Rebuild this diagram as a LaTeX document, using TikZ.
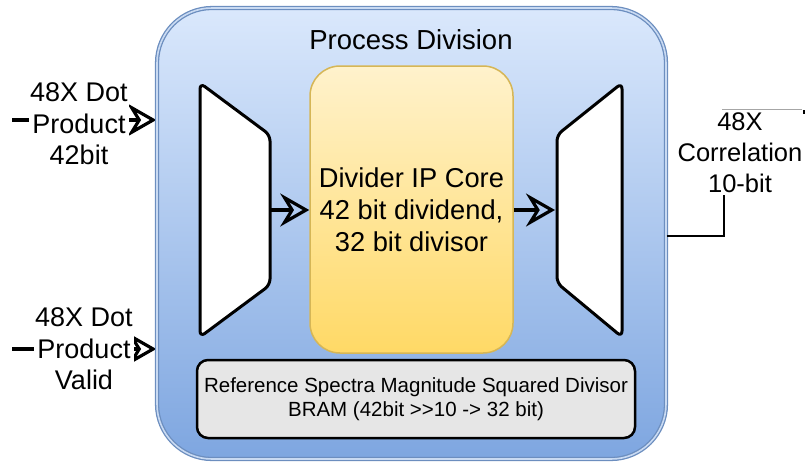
\documentclass[tikz,border=0pt]{standalone}
\usepackage{fontspec}
\setmainfont{Liberation Sans}
\usetikzlibrary{arrows.meta}
\definecolor{procTop}{HTML}{DAE8FC}
\definecolor{procBottom}{HTML}{7EA6E0}
\definecolor{procEdge}{HTML}{6C8EBF}
\definecolor{procGap}{HTML}{C9DAF2}
\definecolor{coreTop}{HTML}{FFF2CC}
\definecolor{coreBottom}{HTML}{FFD966}
\definecolor{coreEdge}{HTML}{D6B656}
\definecolor{bramFill}{HTML}{E6E6E6}
\pgfdeclarelayer{background}
\pgfsetlayers{background,main}
\begin{document}
\begin{tikzpicture}[x=1pt,y=-1pt,
  procbox/.style={draw=procEdge, double=procGap, double distance=1.6pt, line width=1.3pt,
    top color=procTop, bottom color=procBottom, rounded corners=55pt, inner sep=0pt},
  corebox/.style={draw=coreEdge, line width=1.5pt, top color=coreTop, bottom color=coreBottom,
    rounded corners=30pt, align=center, inner sep=0pt,
    font=\fontsize{27.3}{32}\selectfont},
  bramnode/.style={draw=black, line width=2.5pt, fill=bramFill, rounded corners=11pt,
    align=center, inner sep=0pt, font=\fontsize{20.5}{24}\selectfont},
  muxshape/.style={draw=black, fill=white, line width=3pt, rounded corners=6pt, line join=round},
  bigtext/.style={font=\fontsize{27.5}{32}\selectfont},
  sidelabel/.style={fill=white, align=center, inner sep=1pt, font=\fontsize{27}{31.5}\selectfont},
  outlabel/.style={fill=white, align=center, inner sep=2pt, font=\fontsize{25.5}{31}\selectfont},
  flow/.style={line width=3.2pt, -{Stealth[open, length=29pt, width=33pt, inset=10pt]}},
  wire/.style={line width=2.5pt}
]
\useasboundingbox (0,0) rectangle (806,464);

% outer process block
\node[procbox, minimum width=509pt, minimum height=451pt] (proc) at (411.5,233.5) {};
\node[bigtext] (title) at (411,40) {Process Division};

% divider core
\node[corebox, minimum width=203pt, minimum height=287pt] (core) at (411.5,209.5)
  {Divider IP Core\\42 bit dividend,\\32 bit divisor};

% divisor memory
\node[bramnode, minimum width=438pt, minimum height=78pt] (bram) at (416,399)
  {Reference Spectra Magnitude Squared Divisor\\BRAM (42bit >{}>10 -> 32 bit)};

% input and output multiplexers
\draw[muxshape] (200,83) -- (270,135) -- (270,285) -- (200,337) -- cycle;
\draw[muxshape] (622,83) -- (557,135) -- (557,283) -- (622,337) -- cycle;
\coordinate (lmuxout) at (270,210);
\coordinate (rmuxin) at (555,210);

\draw[flow] (lmuxout) -- (core.west |- lmuxout);
\draw[flow] (core.east |- rmuxin) -- (rmuxin);

% external inputs
\node[sidelabel] (inA) at (79,124) {48X Dot\\Product\\42bit};
\node[sidelabel] (inB) at (84,349) {48X Dot\\Product\\Valid};
\coordinate (srcA) at (12,120);
\coordinate (srcB) at (12,349);

% external output
\node[outlabel] (outC) at (740,153) {48X\\Correlation\\10-bit};
\coordinate (knee) at (724,236);
\coordinate (tailA) at (722,109);
\coordinate (tailB) at (802,109);

\begin{pgfonlayer}{background}
  \draw[flow] (srcA) -- (proc.west |- srcA);
  \draw[flow] (srcB) -- (proc.west |- srcB);
\end{pgfonlayer}
\draw[wire] (proc.east |- knee) -- (knee) -- (knee |- outC.south);
\draw[line width=0.8pt, black!35] (tailA) -- (tailB);
\fill[black] (803,110) rectangle (805,114);
\end{tikzpicture}
\end{document}
